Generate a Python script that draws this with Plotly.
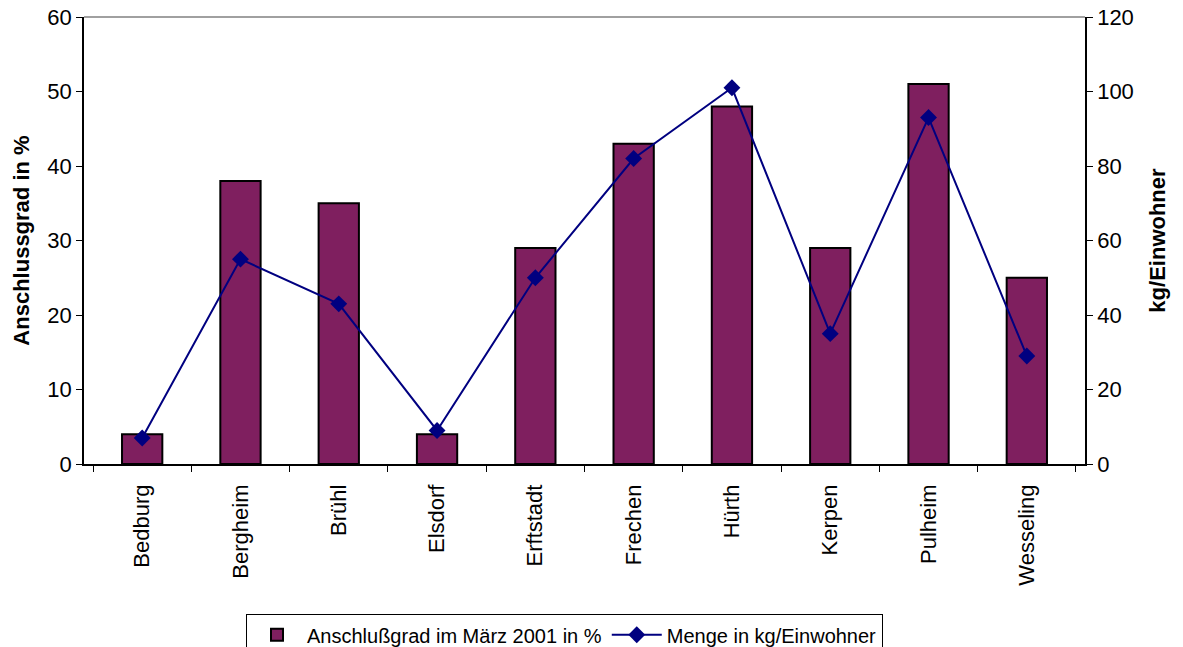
import plotly.graph_objects as go

# Daten
orte = ["Bedburg", "Bergheim", "Brühl", "Elsdorf", "Erftstadt",
        "Frechen", "Hürth", "Kerpen", "Pulheim", "Wesseling"]
anschlussgrad = [4, 38, 35, 4, 29, 43, 48, 29, 51, 25]
menge_kg = [7, 55, 43, 9, 50, 82, 101, 35, 93, 29]

font_family = "Liberation Sans, Arial, sans-serif"

fig = go.Figure()

# Balken: Anschlussgrad
fig.add_trace(
    go.Bar(
        x=orte,
        y=anschlussgrad,
        name="Anschlußgrad im März 2001 in %",
        width=0.41,
        marker=dict(color="#7F1F5F", line=dict(color="black", width=2)),
        yaxis="y",
    )
)

# Linie: Menge pro Einwohner
fig.add_trace(
    go.Scatter(
        x=orte,
        y=menge_kg,
        name="Menge in kg/Einwohner",
        mode="lines+markers",
        line=dict(color="#000080", width=2),
        marker=dict(symbol="diamond", size=13, color="#000080"),
        yaxis="y2",
    )
)

# Seite hat 8px Rand im Browser -> Figur etwas kleiner
fig.update_layout(
    width=1175,
    height=639,
    margin=dict(l=76, r=98, t=9, b=183, autoexpand=False),
    plot_bgcolor="white",
    paper_bgcolor="white",
    font=dict(family=font_family, size=22, color="black"),
    showlegend=True,
    legend=dict(
        orientation="h",
        x=0.48,
        xanchor="center",
        y=-0.336,
        yanchor="top",
        bordercolor="black",
        borderwidth=1,
        font=dict(size=20),
        traceorder="normal",
        itemwidth=50,
    ),
    xaxis=dict(
        type="category",
        tickangle=-90,
        showline=True,
        linecolor="black",
        linewidth=1.5,
        ticks="outside",
        ticklen=6,
        tickson="boundaries",
        tickcolor="black",
        ticklabelstandoff=10,
        showgrid=False,
        mirror=False,
    ),
    yaxis=dict(
        range=[0, 60],
        dtick=10,
        title=dict(text="<b>Anschlussgrad in %</b>", font=dict(size=22), standoff=12),
        showline=True,
        linecolor="black",
        linewidth=1.5,
        ticks="outside",
        ticklen=6,
        tickcolor="black",
        ticklabeloverflow="allow",
        showgrid=False,
        zeroline=False,
    ),
    yaxis2=dict(
        range=[0, 120],
        dtick=20,
        overlaying="y",
        side="right",
        title=dict(text="<b>kg/Einwohner</b>", font=dict(size=22), standoff=17),
        showline=True,
        linecolor="black",
        linewidth=1.5,
        ticks="outside",
        ticklen=6,
        tickcolor="black",
        ticklabeloverflow="allow",
        showgrid=False,
        zeroline=False,
    ),
)

# Rahmen oben (grau)
fig.add_shape(
    type="line", xref="paper", yref="paper",
    x0=0, x1=1, y0=1, y1=1,
    line=dict(color="#808080", width=1.5),
)

fig.write_html("out.html")
